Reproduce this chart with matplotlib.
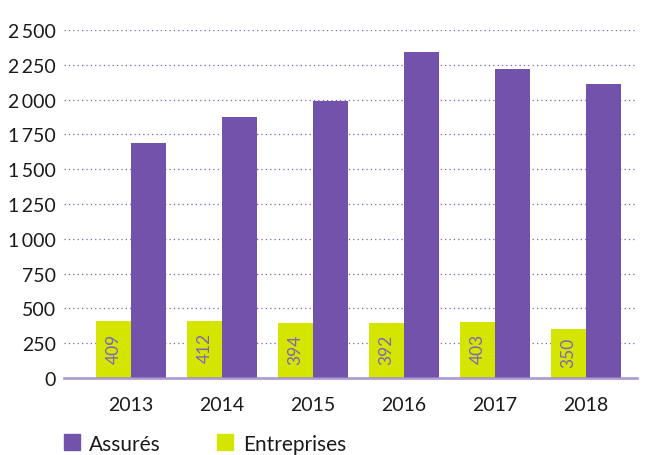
import matplotlib.pyplot as plt
import numpy as np

plt.rcParams['font.family'] = ['Lato', 'DejaVu Sans']

annees = ['2013', '2014', '2015', '2016', '2017', '2018']
assures = [1688, 1875, 1990, 2342, 2220, 2112]
entreprises = [409, 412, 394, 392, 403, 350]
graduations = [0, 250, 500, 750, 1000, 1250, 1500, 1750, 2000, 2250, 2500]
etiquettes = ['0', '250', '500', '750', '1\u2009000', '1\u2009250', '1\u2009500',
              '1\u2009750', '2\u2009000', '2\u2009250', '2\u2009500']

violet = '#7352ab'
vert = '#d4e600'

fig = plt.figure(figsize=(6.49, 4.56), dpi=100)
ax = fig.add_axes([64 / 649, 1 - 379 / 456, 573 / 649, 348 / 456])

x = np.arange(len(annees))
larg = 0.385
barres_e = ax.bar(x - larg / 2, entreprises, larg, color=vert, zorder=2)
ax.bar(x + larg / 2, assures, larg, color=violet, zorder=2)

for b, v in zip(barres_e, entreprises):
    ax.text(b.get_x() + b.get_width() / 2, v / 2 + 15, str(v), rotation=90,
            ha='center', va='center', fontsize=12.5, color='#7f66b8', zorder=3)

ax.set_xlim(-0.736, 5.56)
ax.set_ylim(0, 2500)
ax.set_yticks(graduations)
ax.set_yticklabels(etiquettes)
ax.set_xticks(x)
ax.set_xticklabels(annees)
ax.tick_params(axis='both', length=0, labelsize=14, colors='#1a1a1a')
ax.tick_params(axis='y', pad=6)
ax.tick_params(axis='x', pad=13)

for g in graduations[1:]:
    ax.axhline(g, color='#7a5fbf', lw=0.9, ls=(0, (1, 2.5)), zorder=1)
ax.axhline(0, color='#9d85cc', lw=2, alpha=0.8, zorder=4, clip_on=False)

for s in ax.spines.values():
    s.set_visible(False)

# légende en bas
fig.patches.append(plt.Rectangle((64 / 649, 1 - 451 / 456), 16 / 649, 16 / 456,
                                 transform=fig.transFigure, color=violet))
fig.text(89 / 649, 1 - 451 / 456, 'Assurés', fontsize=15, va='baseline', color='#1a1a1a')
fig.patches.append(plt.Rectangle((217 / 649, 1 - 451 / 456), 16 / 649, 16 / 456,
                                 transform=fig.transFigure, color=vert))
fig.text(243 / 649, 1 - 451 / 456, 'Entreprises', fontsize=15, va='baseline', color='#1a1a1a')

fig.savefig('out.png', dpi=100)
